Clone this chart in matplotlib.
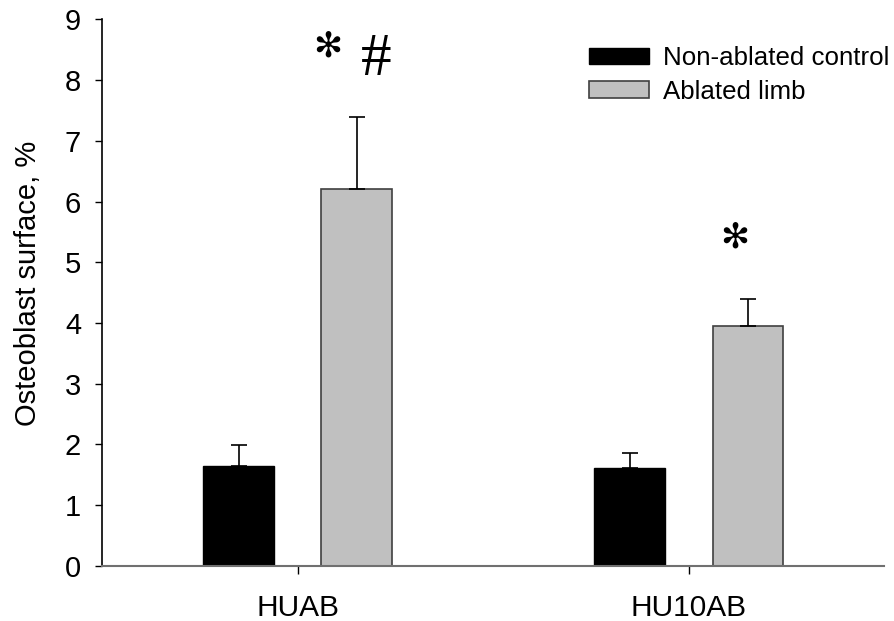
import matplotlib
matplotlib.use("Agg")
import matplotlib.pyplot as plt
import numpy as np

plt.rcParams['font.family'] = ['Liberation Sans', 'DejaVu Sans']

groups = ["HUAB", "HU10AB"]
series_names = ["Non-ablated control", "Ablated limb"]
control_mean = [1.64, 1.61]
control_err = [0.35, 0.25]
ablated_mean = [6.20, 3.95]
ablated_err = [1.19, 0.44]

fig = plt.figure(figsize=(8.95, 6.21), dpi=100)
ax = fig.add_axes([0.114, 0.089, 0.874, 0.8796])

x = np.arange(len(groups))
width = 0.18
offset = 0.151

err_kw = dict(ecolor="black", elinewidth=1.2, capsize=5.8, capthick=1.2)
ax.bar(x - offset, control_mean, width, color="black", edgecolor="black",
       linewidth=1.0, label=series_names[0],
       yerr=[np.zeros(len(x)), control_err], error_kw=err_kw, zorder=2)
ax.bar(x + offset, ablated_mean, width, color="#c0c0c0", edgecolor="#404040",
       linewidth=1.2, label=series_names[1],
       yerr=[np.zeros(len(x)), ablated_err], error_kw=err_kw, zorder=2)

ax.set_xlim(-0.5, 1.5)
ax.set_ylim(0, 9)
ax.set_yticks(range(0, 10))
ax.set_xticks(x)
ax.set_xticklabels(groups)
ax.tick_params(axis="y", direction="out", length=5, width=1.0, labelsize=21, pad=10)
ax.tick_params(axis="x", direction="out", length=6, width=1.0, labelsize=21.5, pad=14)

for side in ("top", "right"):
    ax.spines[side].set_visible(False)
ax.spines["left"].set_color("black")
ax.spines["left"].set_linewidth(1.2)
ax.spines["bottom"].set_color("#707070")
ax.spines["bottom"].set_linewidth(1.5)

ax.set_ylabel("Osteoblast surface, %", fontsize=21)
ax.yaxis.set_label_coords(42 / 895, 1 - 283 / 621, transform=fig.transFigure)

# significance marks
ax.text(x[0] + offset - 0.073, 8.55, "\u273b", fontsize=25, family="DejaVu Sans",
        ha="center", va="center")
ax.text(x[0] + offset + 0.05, 8.33, "#", fontsize=44, family="Liberation Serif",
        ha="center", va="center")
ax.text(x[1] + offset - 0.033, 5.4, "\u273b", fontsize=25, family="DejaVu Sans",
        ha="center", va="center")

leg = ax.legend(loc="upper right", bbox_to_anchor=(889 / 895, 1 - 46 / 621),
                bbox_transform=fig.transFigure, frameon=False,
                fontsize=18.6, handlelength=2.32, handleheight=0.62,
                handletextpad=0.54, labelspacing=0.38, borderpad=0,
                borderaxespad=0)

fig.savefig("out.png", dpi=100)
